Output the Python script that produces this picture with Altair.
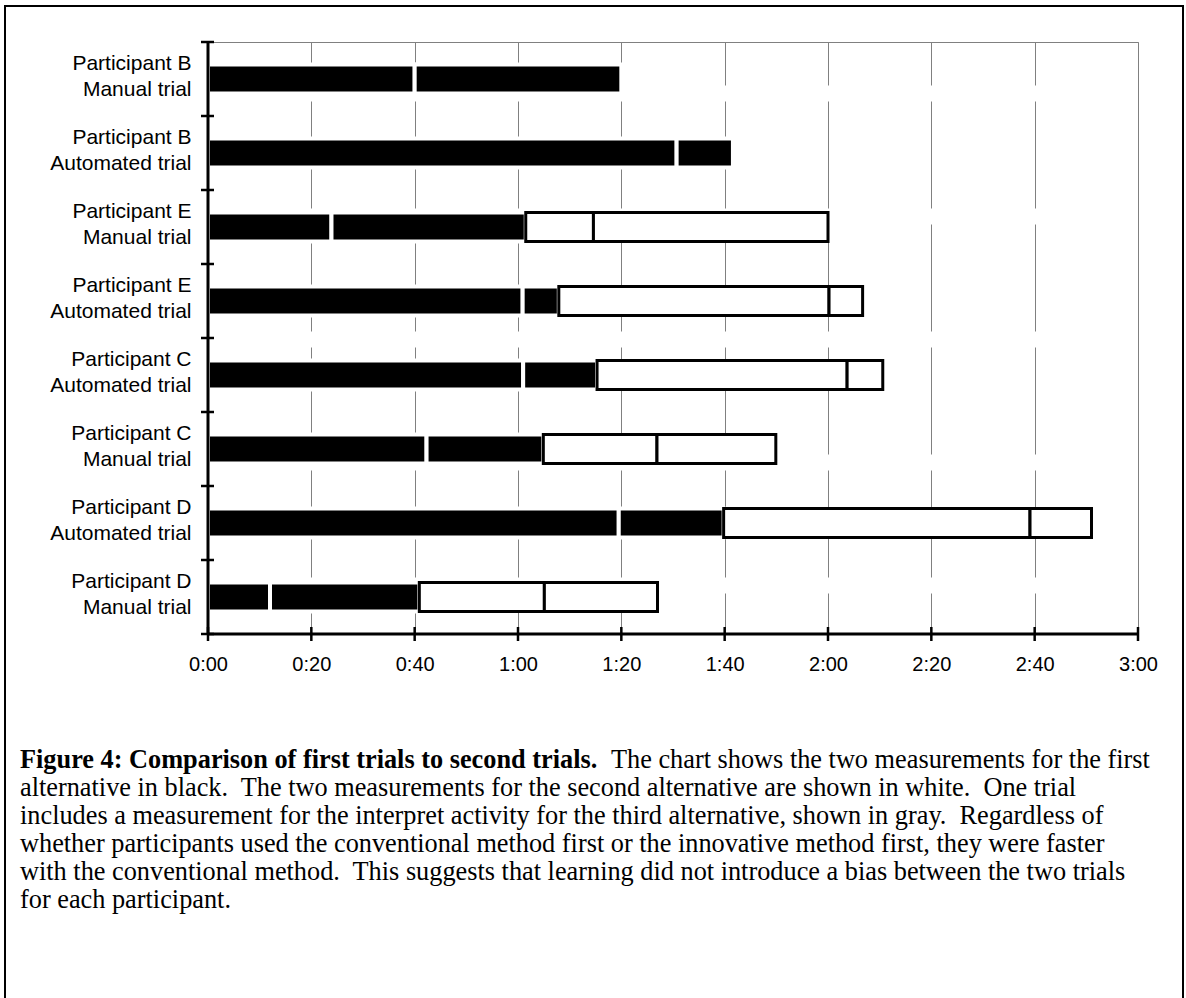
import altair as alt
import pandas as pd

# ---------------- data ----------------
rows = [
    "Participant B\nManual trial",
    "Participant B\nAutomated trial",
    "Participant E\nManual trial",
    "Participant E\nAutomated trial",
    "Participant C\nAutomated trial",
    "Participant C\nManual trial",
    "Participant D\nAutomated trial",
    "Participant D\nManual trial",
]
# cumulative end times (seconds) of each measurement
black1_end = [40.0, 90.7, 23.9, 60.9, 61.0, 42.3, 79.5, 12.0]
black2_end = [80.0, 101.6, 61.5, 67.9, 75.3, 64.9, 99.8, 40.9]
white1_end = [None, None, 74.6, 120.2, 123.7, 86.9, 159.1, 65.1]
white2_end = [None, None, 120.0, 126.7, 130.6, 109.9, 171.0, 87.0]

tick_values = [0, 20, 40, 60, 80, 100, 120, 140, 160, 180]

caption_bold = "Figure 4: Comparison of first trials to second trials."
caption_first_rest = "The chart shows the two measurements for the first"
caption_lines = [
    "alternative in black.\u00a0 The two measurements for the second alternative are shown in white.\u00a0 One trial",
    "includes a measurement for the interpret activity for the third alternative, shown in gray.\u00a0 Regardless of",
    "whether participants used the conventional method first or the innovative method first, they were faster",
    "with the conventional method.\u00a0 This suggests that learning did not introduce a bias between the two trials",
    "for each participant.",
]

# ---------------- tables ----------------
segs = []
for i, r in enumerate(rows):
    segs.append(dict(row=r, start=0.0, end=black1_end[i], kind="first"))
    segs.append(dict(row=r, start=black1_end[i], end=black2_end[i], kind="first"))
    if white1_end[i] is not None:
        segs.append(dict(row=r, start=black2_end[i], end=white1_end[i], kind="second"))
        segs.append(dict(row=r, start=white1_end[i], end=white2_end[i], kind="second"))
df = pd.DataFrame(segs)
rows_df = pd.DataFrame({"row": rows, "idx": list(range(len(rows)))})
ticks_df = pd.DataFrame({"t": tick_values})
one = pd.DataFrame({"k": [0]})

W, H = 930, 592
SANS = "Liberation Sans"
SERIF = "Liberation Serif"

x_scale = alt.Scale(domain=[0, 180], nice=False, zero=True)
y_scale = alt.Scale(domain=rows, paddingInner=0, paddingOuter=0)

x_axis = alt.Axis(
    values=tick_values,
    labelExpr="floor(datum.value/60) + ':' + (datum.value % 60 < 10 ? '0' : '') + (datum.value % 60)",
    grid=True, gridColor="#808080", gridWidth=1, gridDash=[107, 16], gridDashOffset=66,
    domain=False, ticks=False, labelFlush=False, labelOverlap=False,
    labelFont=SANS, labelFontSize=20, labelColor="black", labelPadding=20, title=None,
)
y_axis = alt.Axis(
    labelExpr="split(datum.label, '\\n')",
    domain=False, ticks=False, grid=False,
    labelFont=SANS, labelFontSize=21, labelColor="black", labelLineHeight=26,
    labelAlign="right", labelBaseline="middle", labelPadding=17, labelOffset=-15,
    labelLimit=0, title=None,
)


def X(field, **kw):
    return alt.X(field, type="quantitative", scale=x_scale, axis=x_axis, **kw)


def Y(field, **kw):
    return alt.Y(field, type="nominal", scale=y_scale, axis=y_axis, sort=rows, **kw)


base = alt.Chart(df)
black = base.transform_filter(alt.datum.kind == "first").mark_bar(
    size=29, fill="black", stroke="white", strokeWidth=4
).encode(x=X("start"), x2="end", y=Y("row"))
white = base.transform_filter(alt.datum.kind == "second").mark_bar(
    size=29, fill="white", stroke="black", strokeWidth=3
).encode(x=X("start"), x2="end", y=Y("row"))

# axis lines
y_line = alt.Chart(one).mark_rule(color="black", strokeWidth=3).encode(
    x=alt.value(0), y=alt.value(0), y2=alt.value(H)
)
x_line = alt.Chart(one).mark_rule(color="black", strokeWidth=3).encode(
    x=alt.value(-1), x2=alt.value(W), y=alt.value(H)
)
# crossing ticks
x_ticks = alt.Chart(ticks_df).mark_rule(color="black", strokeWidth=2.5).encode(
    x=X("t"), y=alt.value(H - 7), y2=alt.value(H + 7)
)
y_ticks = alt.Chart(rows_df).mark_rule(color="black", strokeWidth=2.5).encode(
    y=Y("row", bandPosition=0), x=alt.value(-7), x2=alt.value(6)
)
y_tick_last = alt.Chart(rows_df).transform_filter(alt.datum.idx == len(rows) - 1).mark_rule(
    color="black", strokeWidth=2.5
).encode(y=Y("row", bandPosition=1), x=alt.value(-7), x2=alt.value(6))

# page frame
frame = alt.Chart(one).mark_rect(fill="transparent", stroke="black", strokeWidth=2).encode(
    x=alt.value(-203), x2=alt.value(975), y=alt.value(-36), y2=alt.value(975)
)

# caption
CAP_SIZE = 26.3
CAP_X = -188
CAP_Y = 726
LINE_H = 28
cap1 = alt.Chart(one).mark_text(
    font=SERIF, fontSize=CAP_SIZE, fontWeight="bold", align="left", baseline="alphabetic", color="black"
).encode(x=alt.value(CAP_X), y=alt.value(CAP_Y), text=alt.value(caption_bold))
cap1b = alt.Chart(one).mark_text(
    font=SERIF, fontSize=CAP_SIZE, align="left", baseline="alphabetic", color="black"
).encode(x=alt.value(CAP_X + 21.97 * CAP_SIZE + 0.5 * CAP_SIZE), y=alt.value(CAP_Y),
         text=alt.value(caption_first_rest))
cap_rest = alt.Chart(one).mark_text(
    font=SERIF, fontSize=CAP_SIZE, align="left", baseline="alphabetic", color="black", lineHeight=LINE_H
).encode(x=alt.value(CAP_X), y=alt.value(CAP_Y + LINE_H), text=alt.value(caption_lines))

chart = alt.layer(
    black, white, y_line, x_line, x_ticks, y_ticks, y_tick_last, frame, cap1, cap1b, cap_rest
).properties(
    width=W, height=H,
    autosize=alt.AutoSizeParams(type="none"),
    padding={"left": 208, "top": 42, "right": 48, "bottom": 364},
).configure_view(stroke="#808080", strokeWidth=1)

chart.save("out.html", embed_options={"renderer": "svg", "actions": False})
